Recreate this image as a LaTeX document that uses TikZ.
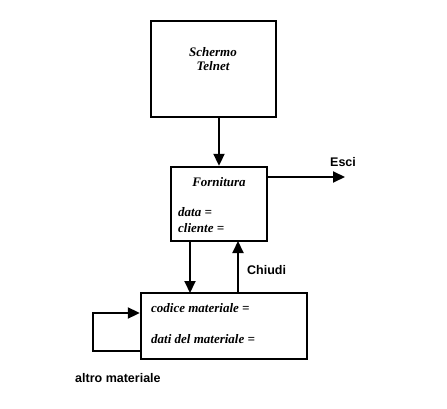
\documentclass[tikz,border=0pt]{standalone}
\usepackage{fontspec}
\setmainfont{Liberation Serif}
\newfontfamily\lblfont{Liberation Sans}
\usetikzlibrary{arrows.meta}
\begin{document}
\begin{tikzpicture}[x=1pt,y=-1pt,
  box/.style={draw,line width=2.4pt,minimum width=#1,inner sep=0pt},
  conn/.style={line width=2pt,-{Triangle[length=12pt,width=11pt]}},
  btxt/.style={font=\fontsize{13}{14}\selectfont\bfseries\itshape,inner sep=0pt,anchor=west},
  ltxt/.style={font=\fontsize{12.5}{14}\selectfont\lblfont\bfseries,inner sep=0pt,anchor=west}]
\useasboundingbox (0,0) rectangle (447,409);
\node[box=125pt,minimum height=96pt] (b1) at (213.5,69) {};
\node[box=96pt,minimum height=74pt] (b2) at (219,204) {};
\node[box=166pt,minimum height=66pt] (b3) at (224,326) {};
\node[font=\fontsize{13}{14}\selectfont\bfseries\itshape,align=center,inner sep=0pt] (t1) at (213,59) {Schermo\\Telnet};
\node[font=\fontsize{13}{14}\selectfont\bfseries\itshape,inner sep=0pt] (t2) at (219,182) {Fornitura};
\node[btxt] (t3) at (178,212) {data =};
\node[btxt] (t4) at (178,228) {cliente =};
\node[btxt] (t5) at (151,308) {codice materiale =};
\node[btxt] (t6) at (151,339) {dati del materiale =};
\node[ltxt] (esci) at (330,162) {Esci};
\node[ltxt] (chiudi) at (247,270) {Chiudi};
\node[ltxt] (altro) at (75,378) {altro materiale};
\coordinate (e1) at (345,177);
\coordinate (d1) at (190,241);
\coordinate (d2) at (190,293);
\coordinate (u1) at (238,293);
\coordinate (u2) at (238,241);
\coordinate (l1) at (93,351);
\coordinate (l2) at (93,313);
\draw[conn] (b2.north |- b1.south) -- (b2.north);
\draw[conn] (b2.east |- e1) -- (e1);
\draw[conn] (d1) -- (d2);
\draw[conn] (u1) -- (u2);
\draw[conn] (b3.west |- l1) -- (l1) -- (l2) -- (b3.west |- l2);
\end{tikzpicture}
\end{document}
